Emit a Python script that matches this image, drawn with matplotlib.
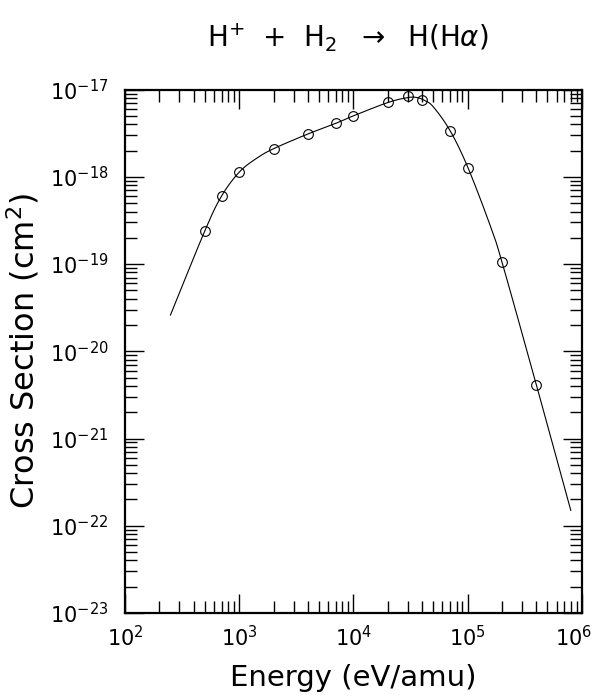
import numpy as np
import matplotlib
matplotlib.use("Agg")
import matplotlib.pyplot as plt
import matplotlib.transforms as mtransforms
from matplotlib.ticker import LogLocator, NullFormatter

# measured points (eV/amu, cm^2)
energy_pts = [500, 700, 1000, 2000, 4000, 7000, 1e4, 2e4, 3e4, 4e4, 7e4, 1e5, 2e5, 4e5]
sigma_pts = [2.4e-19, 6.0e-19, 1.13e-18, 2.1e-18, 3.1e-18, 4.1e-18, 5.0e-18,
             7.2e-18, 8.5e-18, 7.6e-18, 3.35e-18, 1.25e-18, 1.05e-19, 4.1e-21]

# fitted curve
energy_fit = [250, 500, 700, 1000, 1420, 2000, 4000, 7000, 1e4, 2e4, 3e4, 3.6e4,
              4.2e4, 5e4, 7e4, 1e5, 1.57e5, 2e5, 4e5, 8e5]
sigma_fit = [2.6e-20, 2.4e-19, 6.0e-19, 1.13e-18, 1.63e-18, 2.1e-18, 3.1e-18, 4.1e-18,
             5.0e-18, 7.1e-18, 8.1e-18, 8.1e-18, 7.5e-18, 6.35e-18, 3.4e-18, 1.3e-18,
             2.8e-19, 1.05e-19, 4.1e-21, 1.5e-22]

x_ticks = [1e2, 1e3, 1e4, 1e5, 1e6]
y_ticks = [1e-23, 1e-22, 1e-21, 1e-20, 1e-19, 1e-18, 1e-17]

plt.rcParams['font.family'] = ['DejaVu Sans']
plt.rcParams['mathtext.fontset'] = 'dejavusans'


def catmull_rom(px, py, n=25):
    # smooth line through the read points (log space)
    px = np.concatenate([[2 * px[0] - px[1]], px, [2 * px[-1] - px[-2]]])
    py = np.concatenate([[2 * py[0] - py[1]], py, [2 * py[-1] - py[-2]]])
    xs, ys = [], []
    t = np.linspace(0, 1, n, endpoint=False)
    for i in range(1, len(px) - 2):
        for arr, out in ((px, xs), (py, ys)):
            p0, p1, p2, p3 = arr[i - 1], arr[i], arr[i + 1], arr[i + 2]
            out.extend(0.5 * (2 * p1 + (-p0 + p2) * t
                              + (2 * p0 - 5 * p1 + 4 * p2 - p3) * t**2
                              + (-p0 + 3 * p1 - 3 * p2 + p3) * t**3))
    xs.append(px[-2])
    ys.append(py[-2])
    return np.array(xs), np.array(ys)


fig = plt.figure(figsize=(5.98, 6.96), dpi=100)
ax = fig.add_axes([0.209, 0.1193, 0.764, 0.752])

cx, cy = catmull_rom(np.log10(energy_fit), np.log10(sigma_fit))
ax.plot(10**cx, 10**cy, color='black', lw=0.8)
ax.plot(energy_pts, sigma_pts, 'o', mfc='none', mec='black', ms=7, mew=0.8)

ax.set_xscale('log')
ax.set_yscale('log')
ax.set_xticks(x_ticks)
ax.set_yticks(y_ticks)
ax.xaxis.set_minor_locator(LogLocator(base=10, subs=np.arange(2, 10), numticks=20))
ax.yaxis.set_minor_locator(LogLocator(base=10, subs=np.arange(2, 10), numticks=20))
ax.xaxis.set_minor_formatter(NullFormatter())
ax.yaxis.set_minor_formatter(NullFormatter())
ax.set_xlim(1e2, 1e6)
ax.set_ylim(1e-23, 1e-17)

ax.tick_params(which='both', direction='in', top=True, right=True, width=1.0)
ax.tick_params(which='major', length=14, labelsize=15)
ax.tick_params(axis='x', which='major', pad=9)
ax.tick_params(axis='y', which='major', pad=12)
ax.tick_params(which='minor', length=8.5)
for s in ax.spines.values():
    s.set_linewidth(1.6)

# keep the 10^6 label inside the figure
last = ax.xaxis.get_major_ticks()[-1].label1
last.set_transform(last.get_transform()
                   + mtransforms.ScaledTranslation(-8 / 100, 0, fig.dpi_scale_trans))

ax.set_xlabel('Energy (eV/amu)', fontsize=21, va='center')
ax.xaxis.set_label_coords(0.5, -0.124)
ax.set_ylabel('Cross Section (cm$^2$)', fontsize=23, va='center')
ax.yaxis.set_label_coords(-0.222, 0.5)
fig.text(0.581, 0.946, r'H$^{+}$  +  H$_2$  $\rightarrow$  H(H$\alpha$)', fontsize=20,
         ha='center', va='center')

fig.savefig('out.png', dpi=100)
